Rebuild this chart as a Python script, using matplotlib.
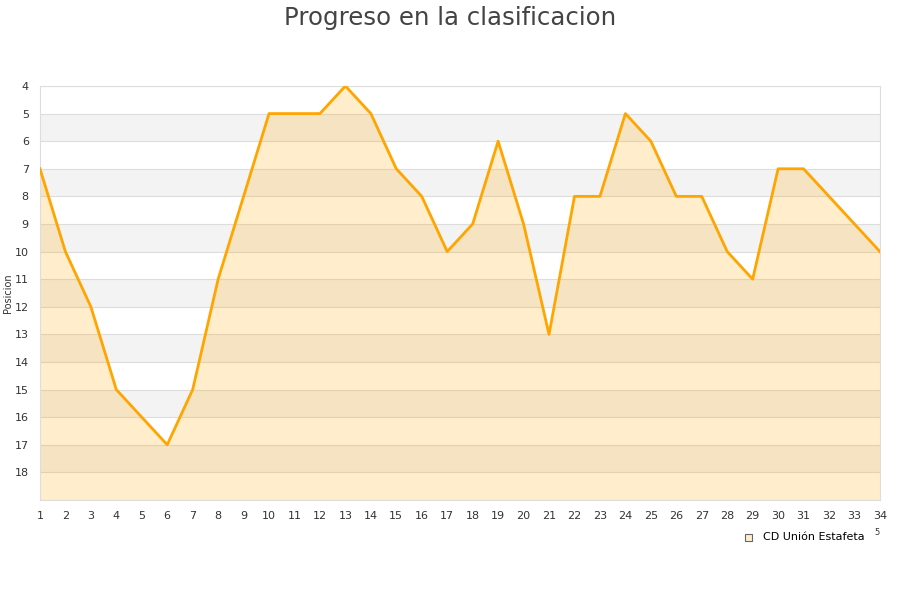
import numpy as np
import matplotlib.pyplot as plt
from matplotlib.patches import Rectangle

# datos de la tabla
jornadas = list(range(1, 35))
posiciones = [7, 10, 12, 15, 16, 17, 15, 11, 8, 5, 5, 5, 4, 5, 7, 8, 10, 9, 6, 9,
              13, 8, 8, 5, 6, 8, 8, 10, 11, 7, 7, 8, 9, 10]
equipo = "CD Unión Estafeta"
y_min, y_max = 4, 19

fig = plt.figure(figsize=(9, 6), dpi=100)
ax = fig.add_axes([0.0444, 0.1667, 0.9333, 0.69])

# bandas alternas
for y in range(y_min, y_max):
    if y % 2 == 1:
        ax.axhspan(y, y + 1, color='#f3f3f3', zorder=0, lw=0)
for y in range(y_min, y_max + 1):
    ax.axhline(y, color='#dddddd', lw=0.8, zorder=1)

ax.fill_between(jornadas, posiciones, y_max, color='#ffa500', alpha=0.2, lw=0, zorder=2)
ax.plot(jornadas, posiciones, color='#ffa500', lw=2.0, zorder=3)

ax.set_xlim(1, 34)
ax.set_ylim(y_max, y_min)
ax.set_xticks(jornadas)
ax.set_yticks(range(y_min, y_max))
ax.tick_params(axis='both', length=0, labelsize=8, colors='#333333')
ax.tick_params(axis='x', pad=8)
ax.tick_params(axis='y', pad=8)
for s in ax.spines.values():
    s.set_color('#dddddd')
    s.set_linewidth(0.8)

ax.set_ylabel('Posicion', fontsize=7, color='#333333')
ax.yaxis.set_label_coords(-0.032, 0.5)
fig.suptitle('Progreso en la clasificacion', fontsize=17.6, color='#444444', y=0.99)

# leyenda
fig.patches.append(Rectangle((0.8278, 0.0983), 0.0078, 0.0117, transform=fig.transFigure,
                             facecolor='#ffeecc', edgecolor='#666666', lw=0.8))
fig.text(0.848, 0.105, equipo, fontsize=8, color='#000000', va='center')
fig.text(0.971, 0.113, '5', fontsize=6, color='#333333', va='center')

fig.savefig('out.png', dpi=100)
